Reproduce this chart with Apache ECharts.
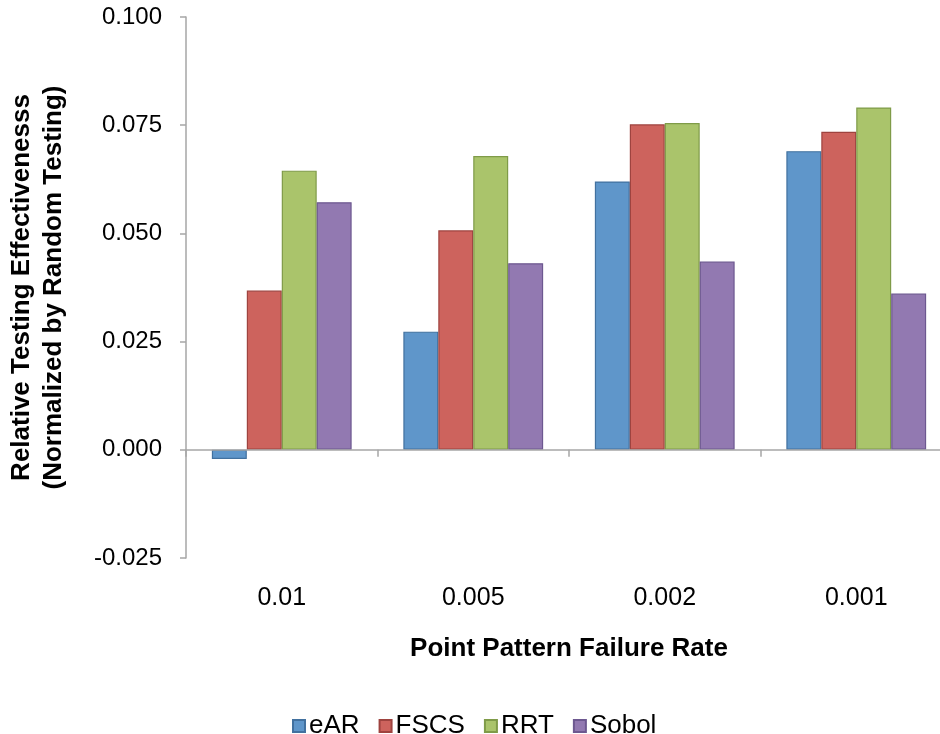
<!DOCTYPE html>
<html>
<head>
<meta charset="utf-8">
<script src="https://cdn.jsdelivr.net/npm/echarts@6/dist/echarts.min.js"></script>
<style>
html,body{margin:0;padding:0;background:#fff;}
#chart{width:940px;height:734px;}
</style>
</head>
<body>
<div id="chart"></div>
<script>
const categories = ['0.01', '0.005', '0.002', '0.001'];
const eAR   = [-0.0021, 0.0273, 0.0620, 0.0690];
const FSCS  = [0.0368, 0.0507, 0.0752, 0.0735];
const RRT   = [0.0645, 0.0679, 0.0755, 0.0791];
const Sobol = [0.0572, 0.0431, 0.0435, 0.0361];
const seriesNames = ['eAR', 'FSCS', 'RRT', 'Sobol'];
const seriesData = [eAR, FSCS, RRT, Sobol];
const yTicks = { min: -0.025, max: 0.1, interval: 0.025 };

const fills = ['#5F96CA', '#CD635D', '#AAC46B', '#9279B1'];
const borders = ['#42719F', '#9E433F', '#7F9B48', '#6D5890'];
const font = '"Liberation Sans", Arial, Helvetica, sans-serif';
const axisColor = '#A6A6A6';

const chart = echarts.init(document.getElementById('chart'), null, { renderer: 'canvas' });
chart.setOption({
  animation: false,
  backgroundColor: '#fff',
  textStyle: { fontFamily: font },
  legend: {
    bottom: -10,
    left: 287,
    icon: 'rect',
    itemWidth: 12,
    itemHeight: 12,
    itemGap: 19,
    data: seriesNames,
    textStyle: { fontSize: 26, color: '#000', fontFamily: font, padding: [2, 0, 0, -1] }
  },
  grid: { left: 186, top: 17, bottom: 176, right: -12, containLabel: false, outerBoundsMode: 'none' },
  xAxis: [
    {
      type: 'category',
      data: categories,
      position: 'bottom',
      axisLine: { show: false, onZero: false },
      axisTick: { show: false },
      axisLabel: { fontSize: 25, color: '#000', margin: 28, fontFamily: font },
      name: 'Point Pattern Failure Rate',
      nameLocation: 'middle',
      nameGap: 78,
      nameTextStyle: { fontSize: 26, fontWeight: 'bold', color: '#000', fontFamily: font }
    },
    {
      type: 'category',
      data: categories,
      position: 'bottom',
      z: 5,
      axisLine: { show: true, onZero: true, lineStyle: { color: axisColor, width: 1.5 } },
      axisTick: { show: true, length: 7, alignWithLabel: false, lineStyle: { color: axisColor, width: 1.5 } },
      axisLabel: { show: false }
    }
  ],
  yAxis: {
    type: 'value',
    min: yTicks.min,
    max: yTicks.max,
    interval: yTicks.interval,
    axisLine: { show: true, lineStyle: { color: axisColor, width: 1.5 } },
    axisTick: { show: true, length: 6, lineStyle: { color: axisColor, width: 1.5 } },
    splitLine: { show: false },
    axisLabel: {
      fontSize: 24, color: '#000', margin: 24, fontFamily: font,
      formatter: v => v.toFixed(3)
    },
    name: 'Relative Testing Effectivenesss\n(Normalized by Random Testing)',
    nameLocation: 'middle',
    nameGap: 116,
    nameRotate: 90,
    nameTextStyle: { fontSize: 26, fontWeight: 'bold', color: '#000', lineHeight: 32, fontFamily: font }
  },
  series: seriesNames.map((n, i) => ({
    name: n,
    type: 'bar',
    xAxisIndex: 0,
    data: seriesData[i],
    barGap: '0%',
    barCategoryGap: '27%',
    itemStyle: { color: fills[i], borderColor: borders[i], borderWidth: 1.2 }
  }))
});
</script>
</body>
</html>
